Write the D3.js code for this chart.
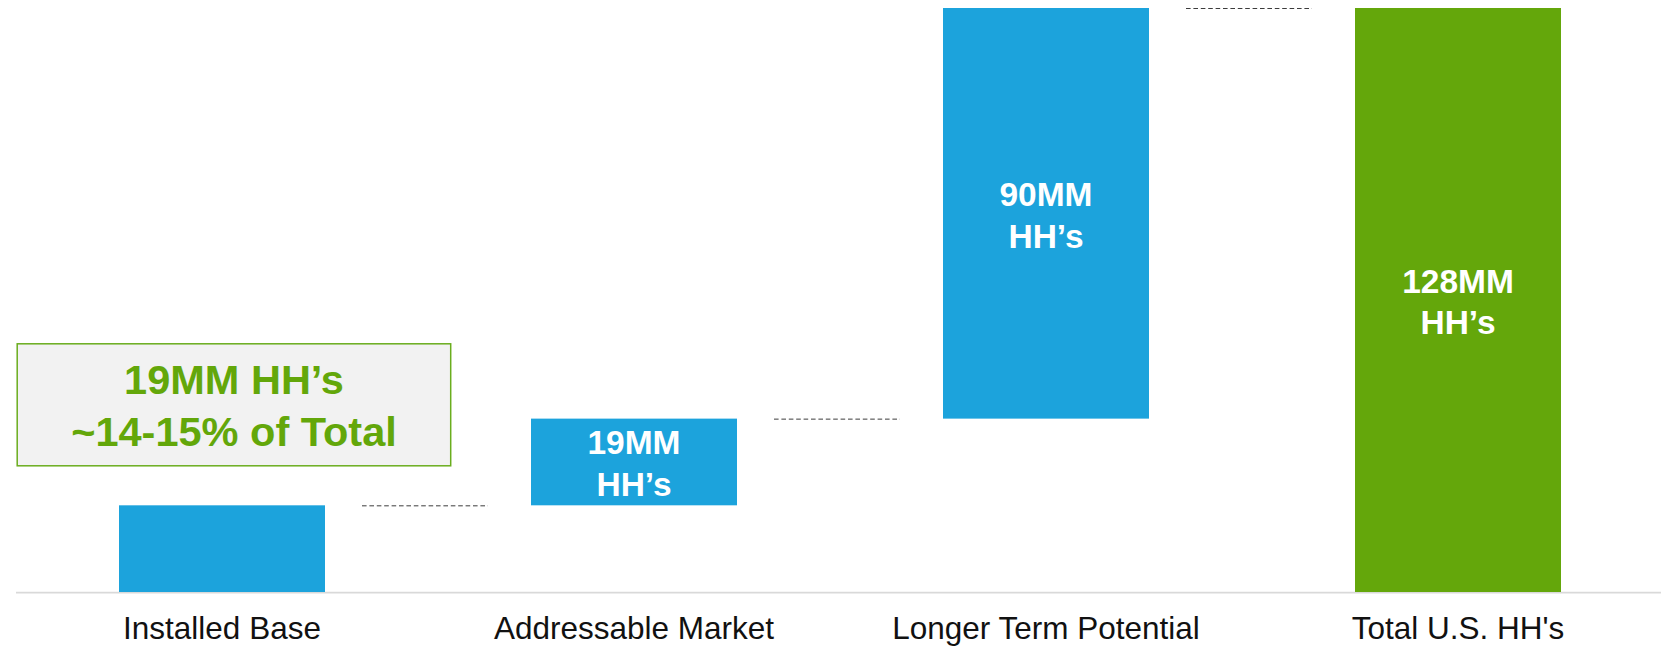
<!DOCTYPE html>
<html>
<head>
<meta charset="utf-8">
<script src="https://cdn.jsdelivr.net/npm/d3@7/dist/d3.min.js"></script>
<style>
  html, body { margin: 0; padding: 0; background: #ffffff; }
  svg { display: block; }
  text { font-family: "Liberation Sans", Arial, Helvetica, sans-serif; }
</style>
</head>
<body>
<svg id="chart" width="1661" height="646"></svg>
<script>
// Household funnel: installed base -> addressable -> longer term -> total U.S. households (millions)
const categories = ["Installed Base", "Addressable Market", "Longer Term Potential", "Total U.S. HH's"];
const values = [19, 19, 90, 128];
const isTotal = [false, false, false, true];
const barLabels = [null, ["19MM", "HH\u2019s"], ["90MM", "HH\u2019s"], ["128MM", "HH\u2019s"]];
const calloutLines = ["19MM HH\u2019s", "~14-15% of Total"];

const W = 1661, H = 646;
const svg = d3.select("#chart");

const blue = "#1ca3dc";
const green = "#64a70b";

// Waterfall segments: running steps stack on each other, totals start from zero
let running = 0;
const segments = values.map((v, i) => {
  let start, end;
  if (isTotal[i]) { start = 0; end = v; }
  else { start = running; end = running + v; running = end; }
  return { cat: categories[i], value: v, start, end, total: isTotal[i], label: barLabels[i] };
});

const x = d3.scaleBand()
  .domain(categories)
  .range([16, 1664])
  .paddingInner(0.5)
  .paddingOuter(0.25);

const y = d3.scaleLinear()
  .domain([0, d3.max(values)])
  .range([592, 8]);

// Baseline
svg.append("line")
  .attr("x1", 16).attr("x2", W)
  .attr("y1", 592.6).attr("y2", 592.6)
  .attr("stroke", "#d9d9d9")
  .attr("stroke-width", 1.6);

// Bars
svg.selectAll("rect.bar")
  .data(segments)
  .join("rect")
  .attr("class", "bar")
  .attr("x", d => x(d.cat))
  .attr("width", x.bandwidth())
  .attr("y", d => y(d.end))
  .attr("height", d => y(d.start) - y(d.end))
  .attr("fill", d => d.total ? green : blue);

// Dashed connectors between consecutive bars at the running level
const connectors = segments.slice(0, -1).map((d, i) => ({
  from: d, to: segments[i + 1], level: d.end
}));
const gapMid = d => (x(d.from.cat) + x.bandwidth() + x(d.to.cat)) / 2 - 3;
svg.selectAll("line.conn")
  .data(connectors)
  .join("line")
  .attr("class", "conn")
  .attr("x1", d => gapMid(d) - 63)
  .attr("x2", d => gapMid(d) + 63)
  .attr("y1", d => y(d.level) + 0.5)
  .attr("y2", d => y(d.level) + 0.5)
  .attr("stroke", "#3c3c3c")
  .attr("stroke-width", 1)
  .attr("stroke-dasharray", "4.6,2.8");

// Value labels inside bars
const labelFont = 33.5, lineGap = 41.7;
segments.filter(d => d.label).forEach(d => {
  const cx = x(d.cat) + x.bandwidth() / 2;
  const cy = (y(d.start) + y(d.end)) / 2;
  const t = svg.append("text")
    .attr("text-anchor", "middle")
    .attr("fill", "#ffffff")
    .attr("font-weight", "bold")
    .attr("font-size", labelFont);
  d.label.forEach((line, k) => {
    t.append("tspan")
      .attr("x", cx)
      .attr("y", cy - 7.5 + k * lineGap)
      .text(line);
  });
});

// Category labels
svg.selectAll("text.cat")
  .data(categories)
  .join("text")
  .attr("class", "cat")
  .attr("x", d => x(d) + x.bandwidth() / 2)
  .attr("y", 639)
  .attr("text-anchor", "middle")
  .attr("font-size", 31.5)
  .attr("fill", "#111111")
  .text(d => d);

// Callout box above the installed base bar
const box = svg.append("g");
box.append("rect")
  .attr("x", 17.2).attr("y", 343.8)
  .attr("width", 433.5).attr("height", 122)
  .attr("fill", "#f2f2f2")
  .attr("stroke", "#6aad1e")
  .attr("stroke-width", 1.5);
const boxText = box.append("text")
  .attr("text-anchor", "middle")
  .attr("font-weight", "bold")
  .attr("font-size", 41.5)
  .attr("fill", "#63a70a");
calloutLines.forEach((line, k) => {
  boxText.append("tspan")
    .attr("x", 234)
    .attr("y", 394.3 + k * 51.4)
    .text(line);
});
</script>
</body>
</html>
